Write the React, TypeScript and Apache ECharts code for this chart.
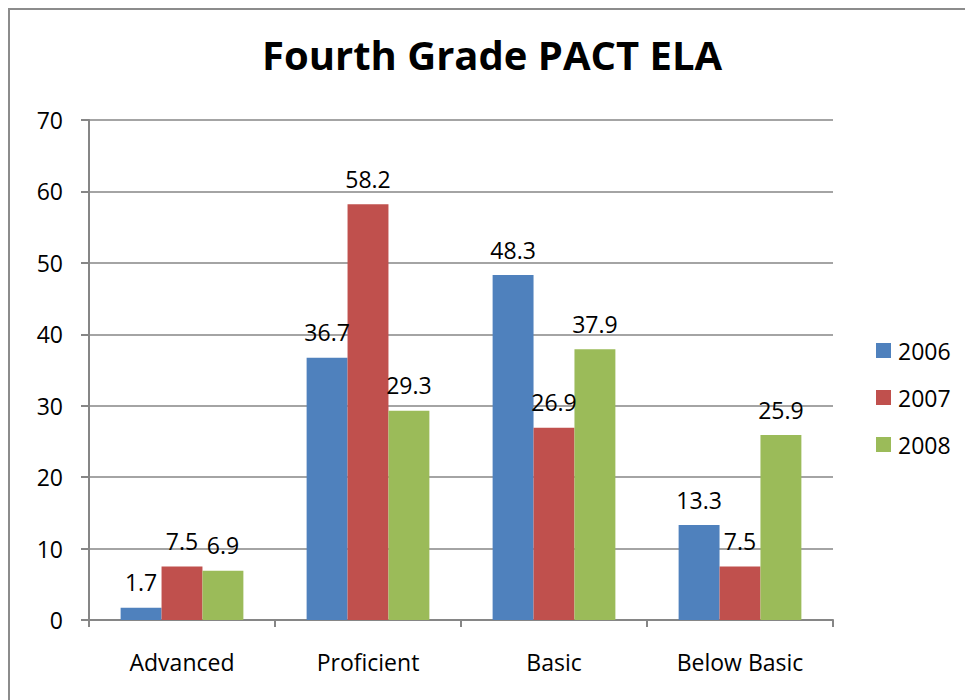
import React, { useEffect, useRef } from "react";
import * as echarts from "echarts";

const categories = ["Advanced", "Proficient", "Basic", "Below Basic"];
const seriesNames = ["2006", "2007", "2008"];
const values2006 = [1.7, 36.7, 48.3, 13.3];
const values2007 = [7.5, 58.2, 26.9, 7.5];
const values2008 = [6.9, 29.3, 37.9, 25.9];
const colors = ["#4F81BD", "#C0504D", "#9BBB59"];
const FONT = "'Open Sans', Lato, sans-serif";

export default function App() {
  const ref = useRef<HTMLDivElement>(null);
  useEffect(() => {
    if (!ref.current) return;
    const chart = echarts.init(ref.current, null, { renderer: "svg" });
    const data = [values2006, values2007, values2008];
    chart.setOption({
      animation: false,
      backgroundColor: "#ffffff",
      title: {
        text: "Fourth Grade PACT ELA",
        left: 257,
        top: 29,
        textStyle: { fontFamily: FONT, fontSize: 40, fontWeight: "bold", color: "#000" },
      },
      graphic: [
        {
          type: "polyline",
          shape: { points: [[9, 700], [9, 9], [965, 9]] },
          style: { stroke: "#8c8c8c", lineWidth: 2, fill: "none" },
          silent: true,
        },
      ],
      legend: {
        orient: "vertical",
        left: 871,
        top: 334,
        itemWidth: 15,
        itemHeight: 15,
        itemGap: 24,
        icon: "rect",
        data: seriesNames,
        textStyle: { fontFamily: FONT, fontSize: 23, color: "#000", padding: [0, 0, 0, 2] },
      },
      grid: { left: 89, right: 132, top: 120, bottom: 80 },
      xAxis: {
        type: "category",
        data: categories,
        boundaryGap: true,
        axisLine: { lineStyle: { color: "#868686", width: 2 } },
        axisTick: { show: true, length: 7, lineStyle: { color: "#868686", width: 2 } },
        axisLabel: { fontFamily: FONT, fontSize: 23, color: "#000", margin: 30 },
      },
      yAxis: {
        type: "value",
        min: 0,
        max: 70,
        interval: 10,
        axisLine: { show: true, lineStyle: { color: "#868686", width: 2 } },
        axisTick: { show: true, length: 8, lineStyle: { color: "#868686", width: 2 } },
        axisLabel: { fontFamily: FONT, fontSize: 23, color: "#000", margin: 26 },
        splitLine: { lineStyle: { color: "#868686", width: 1.5 } },
      },
      series: seriesNames.map((name, i) => ({
        name,
        type: "bar",
        data: data[i],
        barGap: "0%",
        barCategoryGap: "34%",
        itemStyle: { color: colors[i] },
        label: {
          show: true,
          position: "top",
          distance: 14,
          fontFamily: FONT,
          fontSize: 23,
          color: "#000",
        },
      })),
    });
    return () => chart.dispose();
  }, []);
  return (
    <div
      ref={ref}
      style={{ position: "absolute", left: 0, top: 0, width: 965, height: 700 }}
    />
  );
}
